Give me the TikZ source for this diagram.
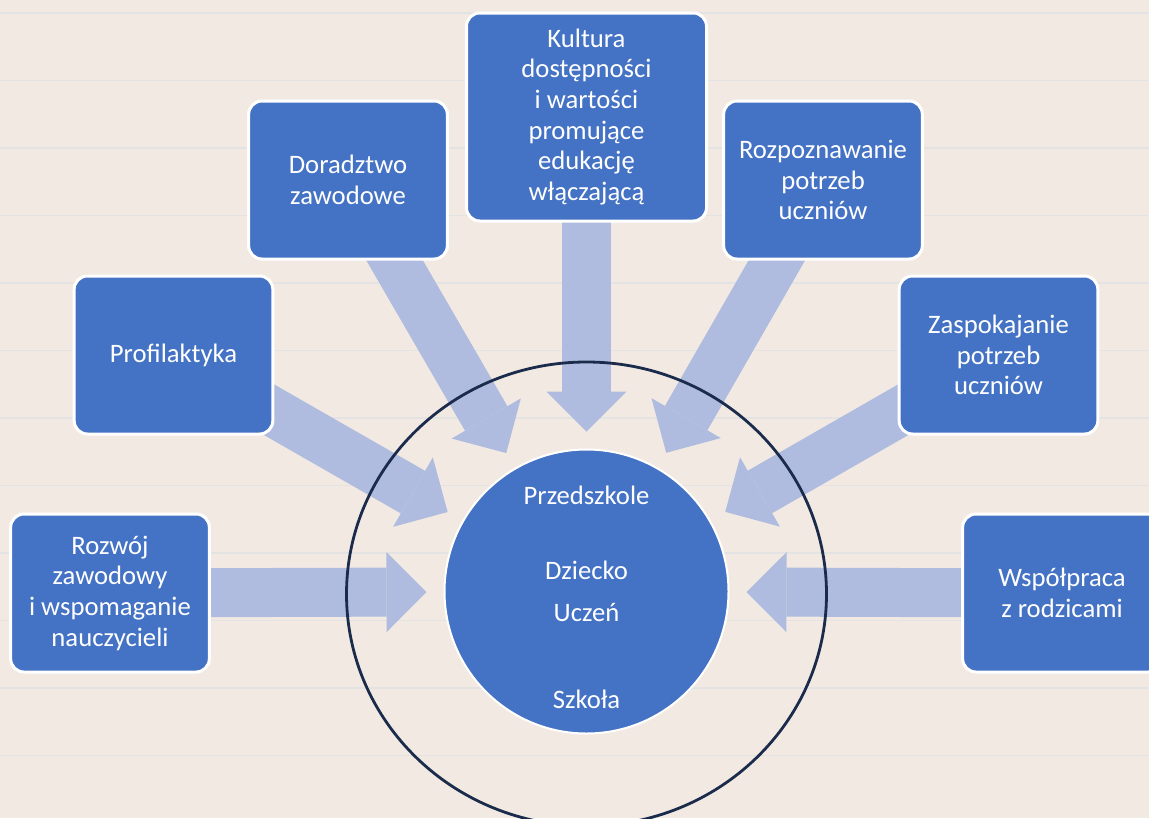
\documentclass[tikz,border=0pt]{standalone}
\usepackage{fontspec}
\setmainfont{Carlito}
\usetikzlibrary{calc,arrows.meta}

\pgfdeclarelayer{background}
\pgfdeclarelayer{flow}
\pgfsetlayers{background,flow,main}

\definecolor{paper}{HTML}{F2EAE2}
\definecolor{ruleline}{HTML}{E3E3E3}
\definecolor{boxblue}{HTML}{4472C4}
\definecolor{flowblue}{HTML}{AFBCDF}
\definecolor{ringnavy}{HTML}{1B2B4B}

\tikzset{
  unitbox/.style={fill=boxblue, draw=white, line width=2.25pt, rounded corners=10pt,
    text=white, align=center, minimum width=149pt, minimum height=118.5pt,
    font=\fontsize{20}{23}\selectfont},
  hubdisc/.style={circle, fill=boxblue, draw=white, line width=1.5pt,
    minimum size=213pt, inner sep=0pt},
  hubtext/.style={text=white, anchor=base, font=\fontsize{20}{23}\selectfont},
  flowarrow/.style={draw=flowblue, line width=36.75pt,
    -{Triangle[length=30pt,width=60pt,line width=0pt]}},
}

\begin{document}
\begin{tikzpicture}[x=0.75pt,y=-0.75pt]
    \clip (0,0) rectangle (1149,818);
    % Nodes
    \node[hubdisc] (hub) at (586.5,591.5) {} ; %
    \node[hubtext] (przedszkole) at (586.5,504) {Przedszkole} ; %
    \node[hubtext] (dziecko) at (586.5,579) {Dziecko} ; %
    \node[hubtext] (uczen) at (586.5,621.5) {Uczeń} ; %
    \node[hubtext] (szkola) at (586.5,708) {Szkoła} ; %
    \node[unitbox] (rozwoj) at (110,593) {Rozwój\\zawodowy\\i wspomaganie\\nauczycieli} ; %
    \node[unitbox] (profil) at (173.5,355) {Profilaktyka} ; %
    \node[unitbox] (doradz) at (348,180) {Doradztwo\\zawodowe} ; %
    \node[unitbox, minimum width=180pt, minimum height=156pt] (kultura) at (586.5,117)
      {Kultura\\dostępności\\i wartości\\promujące\\edukację\\włączającą} ; %
    \node[unitbox] (rozpozn) at (823,180) {Rozpoznawanie\\potrzeb\\uczniów} ; %
    \node[unitbox] (zaspok) at (998.5,355) {Zaspokajanie\\potrzeb\\uczniów} ; %
    \node[unitbox] (wspolp) at (1062,593) {Współpraca\\z rodzicami} ; %
    % Ring
    \draw[ringnavy, line width=2.1pt] (586.5,594) ellipse [x radius=180pt, y radius=174pt] ; %
    % Arrows
    \begin{pgfonlayer}{flow}
      \foreach \src in {rozwoj,profil,doradz,kultura,rozpozn,zaspok,wspolp}
        \draw[flowarrow] (\src.center) -- ($(hub.center)!120pt!(\src.center)$) ; %
    \end{pgfonlayer}
    % Paper
    \begin{pgfonlayer}{background}
      \fill[paper] (0,0) rectangle (1149,818) ; %
      \foreach \k in {0,...,11}
        \draw[ruleline, line width=1pt] (0,13+67.5*\k) -- (1149,13+67.5*\k) ; %
    \end{pgfonlayer}
\end{tikzpicture}
\end{document}
